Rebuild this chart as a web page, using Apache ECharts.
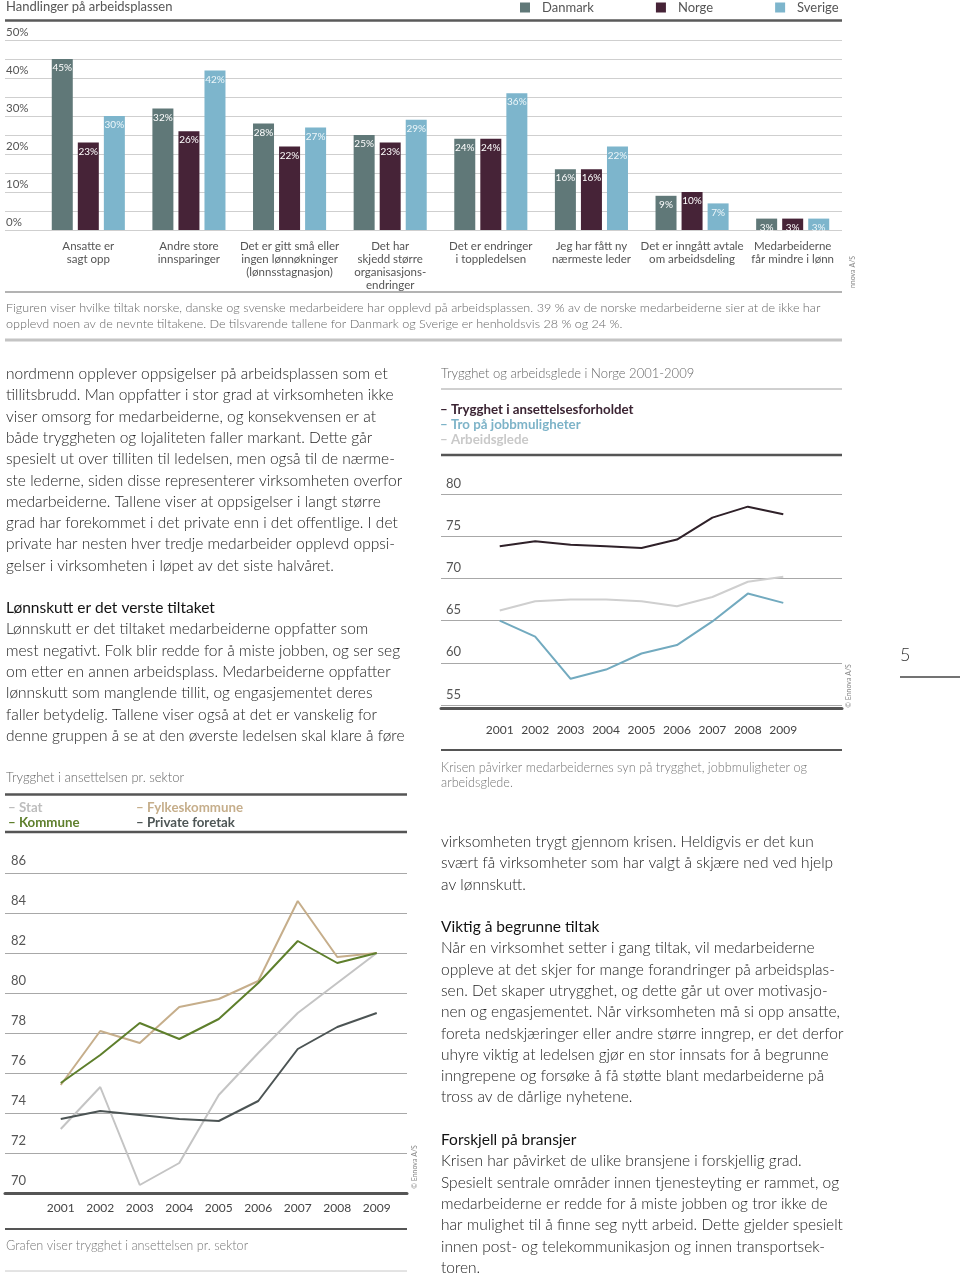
<!DOCTYPE html>
<html><head><meta charset="utf-8">
<script src="https://cdn.jsdelivr.net/npm/echarts@6/dist/echarts.min.js"></script>
<style>html,body{margin:0;padding:0;background:#fff}#c{width:960px;height:1276px}</style>
</head><body><div id="c"></div><script>
// ---- Data ----
const categories = ['Ansatte er\nsagt opp','Andre store\ninnsparinger','Det er gitt små eller\ningen lønnøkninger\n(lønnsstagnasjon)','Det har\nskjedd større\norganisasjons-\nendringer','Det er endringer\ni toppledelsen','Jeg har fått ny\nnærmeste leder','Det er inngått avtale\nom arbeidsdeling','Medarbeiderne\nfår mindre i lønn'];
const danmark = [45,32,28,25,24,16,9,3];
const norge   = [23,26,22,23,24,16,10,3];
const sverige = [30,42,27,29,36,22,7,3];

const years = ['2001','2002','2003','2004','2005','2006','2007','2008','2009'];
const trygghetNorge = [73.8,74.4,74.0,73.8,73.6,74.6,77.2,78.5,77.6];
const troJobb       = [65.0,63.1,58.1,59.2,61.1,62.1,64.9,68.2,67.1];
const arbeidsglede  = [66.2,67.3,67.5,67.5,67.3,66.7,67.8,69.6,70.2];

const stat           = [73.2,75.3,70.4,71.5,74.9,77.0,79.0,80.5,82.0];
const kommune        = [75.5,76.9,78.5,77.7,78.7,80.5,82.6,81.5,82.0];
const fylkeskommune  = [75.4,78.1,77.5,79.3,79.7,80.6,84.6,81.8,82.0];
const privateForetak = [73.7,74.1,73.9,73.7,73.6,74.6,77.2,78.3,79.0];

const barCaption = ['Figuren viser hvilke tiltak norske, danske og svenske medarbeidere har opplevd på arbeidsplassen. 39 % av de norske medarbeiderne sier at de ikke har','opplevd noen av de nevnte tiltakene. De tilsvarende tallene for Danmark og Sverige er henholdsvis 28 % og 24 %.'];
const line1Caption = ['Krisen påvirker medarbeidernes syn på trygghet, jobbmuligheter og','arbeidsglede.'];
const line2Caption = ['Grafen viser trygghet i ansettelsen pr. sektor'];

const leftText1 = ['nordmenn opplever oppsigelser på arbeidsplassen som et','tillitsbrudd. Man oppfatter i stor grad at virksomheten ikke','viser omsorg for medarbeiderne, og konsekvensen er at','både tryggheten og lojaliteten faller markant. Dette går','spesielt ut over tilliten til ledelsen, men også til de nærme-','ste lederne, siden disse representerer virksomheten overfor','medarbeiderne. Tallene viser at oppsigelser i langt større','grad har forekommet i det private enn i det offentlige. I det','private har nesten hver tredje medarbeider opplevd oppsi-','gelser i virksomheten i løpet av det siste halvåret.'];
const leftHead2 = 'Lønnskutt er det verste tiltaket';
const leftText2 = ['Lønnskutt er det tiltaket medarbeiderne oppfatter som','mest negativt. Folk blir redde for å miste jobben, og ser seg','om etter en annen arbeidsplass. Medarbeiderne oppfatter','lønnskutt som manglende tillit, og engasjementet deres','faller betydelig. Tallene viser også at det er vanskelig for','denne gruppen å se at den øverste ledelsen skal klare å føre'];
const rightText1 = ['virksomheten trygt gjennom krisen. Heldigvis er det kun','svært få virksomheter som har valgt å skjære ned ved hjelp','av lønnskutt.'];
const rightHead2 = 'Viktig å begrunne tiltak';
const rightText2 = ['Når en virksomhet setter i gang tiltak, vil medarbeiderne','oppleve at det skjer for mange forandringer på arbeidsplas-','sen. Det skaper utrygghet, og dette går ut over motivasjo-','nen og engasjementet. Når virksomheten må si opp ansatte,','foreta nedskjæringer eller andre større inngrep, er det derfor','uhyre viktig at ledelsen gjør en stor innsats for å begrunne','inngrepene og forsøke å få støtte blant medarbeiderne på','tross av de dårlige nyhetene.'];
const rightHead3 = 'Forskjell på bransjer';
const rightText3 = ['Krisen har påvirket de ulike bransjene i forskjellig grad.','Spesielt sentrale områder innen tjenesteyting er rammet, og','medarbeiderne er redde for å miste jobben og tror ikke de','har mulighet til å finne seg nytt arbeid. Dette gjelder spesielt','innen post- og telekommunikasjon og innen transportsek-','toren.'];

// ---- Style ----
const F = 'Lato';
const C_DK = '#607878', C_NO = '#462337', C_SE = '#7db5cc';
const LH = 21.3;
const BODY = 15.5;

function hline(x1, x2, y, w, color) {
  return {type:'line', silent:true, shape:{x1:x1, y1:y, x2:x2, y2:y}, style:{stroke:color, lineWidth:w}};
}
function block(x, yCenterFirst, lines, size, color, weight, lh) {
  lh = lh || LH;
  return {type:'text', silent:true, x:x, y:yCenterFirst - lh/2, style:{text:lines.join('\n'), fontSize:size, fontFamily:F, fontWeight:weight, fill:color, verticalAlign:'top', lineHeight:lh}};
}
function vtext(x, y, t) {
  return {type:'text', silent:true, x:x, y:y, rotation:Math.PI/2, style:{text:t, fontSize:7, fontFamily:F, fill:'#888', align:'center', verticalAlign:'middle'}};
}

const chart = echarts.init(document.getElementById('c'));

const hiddenY = (grid, min, max) => ({gridIndex:grid, min:min, max:max, show:false});
const gridY = (grid, min, max, interval, fmt, lineColor, lblSize, pad, margin) => ({
  gridIndex:grid, type:'value', min:min, max:max, interval:interval,
  axisLine:{show:false}, axisTick:{show:false},
  splitLine:{show:true, lineStyle:{color:lineColor, width:1.2}},
  axisLabel:{inside:true, margin:margin, verticalAlign:'bottom', padding:[0,0,pad,0], fontFamily:F, fontSize:lblSize, color:'#555', formatter:fmt}
});
const lineLegend = (left, top, data) => ({
  orient:'vertical', left:left, top:top, padding:0, itemWidth:0, itemHeight:14, itemGap:1, icon:'rect',
  itemStyle:{opacity:0}, lineStyle:{opacity:0}, formatter:'– {name}',
  textStyle:{fontFamily:F, fontSize:13.3, fontWeight:'bold'}, data:data
});

const option = {
  animation:false,
  backgroundColor:'#fff',
  title:[
    {text:'Handlinger på arbeidsplassen', left:6, top:0, padding:0, textStyle:{fontFamily:F, fontSize:13, fontWeight:'normal', color:'#555'}},
    {text:'Trygghet og arbeidsglede i Norge 2001-2009', left:441, top:367, padding:0, textStyle:{fontFamily:F, fontSize:13, fontWeight:300, color:'#666'}},
    {text:'Trygghet i ansettelsen pr. sektor', left:6, top:771, padding:0, textStyle:{fontFamily:F, fontSize:13, fontWeight:300, color:'#666'}}
  ],
  legend:[
    {data:['Danmark','Norge','Sverige'], left:520, top:1, padding:0, itemWidth:10, itemHeight:10, itemGap:62, icon:'rect',
     textStyle:{fontFamily:F, fontSize:13, color:'#555', padding:[0,0,0,7]}},
    lineLegend(435, 403, [{name:'Trygghet i ansettelsesforholdet', textStyle:{color:'#3b2433'}},
                          {name:'Tro på jobbmuligheter', textStyle:{color:'#7db3c8'}},
                          {name:'Arbeidsglede', textStyle:{color:'#c9c9c9'}}]),
    lineLegend(3, 801, [{name:'Stat', textStyle:{color:'#bdbdbd'}}, {name:'Kommune', textStyle:{color:'#5e7f2c'}}]),
    lineLegend(131, 801, [{name:'Fylkeskommune', textStyle:{color:'#c6ae8b'}}, {name:'Private foretak', textStyle:{color:'#4e5656'}}])
  ],
  grid:[
    {left:5, right:118, top:40, height:190},
    {left:38, right:117, top:40, height:190},
    {left:441, right:118, top:494, height:211},
    {left:482, right:159, top:494, height:211},
    {left:5, right:553, top:873, height:320},
    {left:41, right:563.5, top:873, height:320}
  ],
  xAxis:[
    {gridIndex:0, type:'value', show:false},
    {gridIndex:1, type:'category', data:categories, axisLine:{show:false}, axisTick:{show:false},
     axisLabel:{interval:0, margin:10, fontFamily:F, fontSize:11.5, lineHeight:13, color:'#555'}},
    {gridIndex:2, type:'value', min:0, max:1, offset:3, axisLine:{show:true, onZero:false, lineStyle:{color:'#555', width:3}},
     axisTick:{show:false}, axisLabel:{show:false}, splitLine:{show:false}},
    {gridIndex:3, type:'category', data:years, axisLine:{show:false}, axisTick:{show:false},
     axisLabel:{interval:0, margin:19, fontFamily:F, fontSize:12, color:'#444'}},
    {gridIndex:4, type:'value', min:0, max:1, offset:0, axisLine:{show:true, onZero:false, lineStyle:{color:'#555', width:3}},
     axisTick:{show:false}, axisLabel:{show:false}, splitLine:{show:false}},
    {gridIndex:5, type:'category', data:years, axisLine:{show:false}, axisTick:{show:false},
     axisLabel:{interval:0, margin:9, fontFamily:F, fontSize:12, color:'#444'}}
  ],
  yAxis:[
    gridY(0, 0, 50, 5, v => (v % 10 === 0 ? v + '%' : ''), '#cfcfcf', 11.5, 2, 1),
    hiddenY(1, 0, 50),
    gridY(2, 55, 80, 5, v => String(v), '#a8a8a8', 13, 4, 5),
    hiddenY(3, 55, 80),
    gridY(4, 70, 86, 2, v => String(v), '#a8a8a8', 13, 6, 6),
    hiddenY(5, 70, 86)
  ],
  series:[
    {name:'Danmark', type:'bar', xAxisIndex:1, yAxisIndex:1, data:danmark, barWidth:21, barGap:'24%', itemStyle:{color:C_DK},
     label:{show:true, position:'insideTop', distance:4, formatter:'{c}%', color:'#fff', fontFamily:F, fontSize:10}},
    {name:'Norge', type:'bar', xAxisIndex:1, yAxisIndex:1, data:norge, barWidth:21, barGap:'24%', itemStyle:{color:C_NO},
     label:{show:true, position:'insideTop', distance:4, formatter:'{c}%', color:'#fff', fontFamily:F, fontSize:10}},
    {name:'Sverige', type:'bar', xAxisIndex:1, yAxisIndex:1, data:sverige, barWidth:21, barGap:'24%', itemStyle:{color:C_SE},
     label:{show:true, position:'insideTop', distance:4, formatter:'{c}%', color:'#eef7fa', fontFamily:F, fontSize:10}},

    {name:'Arbeidsglede', type:'line', xAxisIndex:3, yAxisIndex:3, data:arbeidsglede, symbol:'none', lineStyle:{color:'#cfcfcf', width:2}, itemStyle:{color:'#cfcfcf'}},
    {name:'Tro på jobbmuligheter', type:'line', xAxisIndex:3, yAxisIndex:3, data:troJobb, symbol:'none', lineStyle:{color:'#72aabf', width:2}, itemStyle:{color:'#72aabf'}},
    {name:'Trygghet i ansettelsesforholdet', type:'line', xAxisIndex:3, yAxisIndex:3, data:trygghetNorge, symbol:'none', lineStyle:{color:'#2f2129', width:2}, itemStyle:{color:'#2f2129'}},

    {name:'Stat', type:'line', xAxisIndex:5, yAxisIndex:5, data:stat, symbol:'none', lineStyle:{color:'#c4c4c4', width:2}, itemStyle:{color:'#c4c4c4'}},
    {name:'Private foretak', type:'line', xAxisIndex:5, yAxisIndex:5, data:privateForetak, symbol:'none', lineStyle:{color:'#4c5454', width:2}, itemStyle:{color:'#4c5454'}},
    {name:'Fylkeskommune', type:'line', xAxisIndex:5, yAxisIndex:5, data:fylkeskommune, symbol:'none', lineStyle:{color:'#c6ae8b', width:2}, itemStyle:{color:'#c6ae8b'}},
    {name:'Kommune', type:'line', xAxisIndex:5, yAxisIndex:5, data:kommune, symbol:'none', lineStyle:{color:'#5e7f2c', width:2}, itemStyle:{color:'#5e7f2c'}}
  ],
  graphic:[
    // bar chart frame
    hline(5, 842, 20.5, 2.5, '#5a5a5a'),
    hline(5, 842, 292, 1.5, '#9a9a9a'),
    block(6, 308, barCaption, 12.6, '#666', 300, 15.5),
    hline(5, 842, 340, 3, '#c4c4c4'),
    vtext(853, 272, 'nnova A/S'),
    // line chart 1 frame
    hline(441, 842, 389, 1, '#a0a0a0'),
    hline(441, 842, 455, 2.5, '#555'),
    hline(441, 842, 750, 2, '#555'),
    block(441, 768, line1Caption, 12.7, '#777', 300, 15),
    vtext(849, 686, '© Ennova A/S'),
    // line chart 2 frame
    hline(5, 407, 794.5, 2.5, '#555'),
    hline(5, 407, 832, 2.5, '#555'),
    hline(5, 407, 1229, 2, '#555'),
    block(6, 1246, line2Caption, 12.7, '#777', 300, 15),
    hline(5, 407, 1271, 1, '#c8c8c8'),
    vtext(415, 1167, '© Ennova A/S'),
    // page number
    {type:'text', silent:true, x:900, y:655, style:{text:'5', fontSize:18, fontFamily:F, fontWeight:300, fill:'#333', verticalAlign:'middle'}},
    hline(900, 960, 677, 1.5, '#444'),
    // body text
    block(6, 374, leftText1, BODY, '#222', 300),
    block(6, 608, [leftHead2], BODY, '#111', 'normal'),
    block(6, 629.3, leftText2, BODY, '#222', 300),
    block(441, 842, rightText1, BODY, '#222', 300),
    block(441, 927, [rightHead2], BODY, '#111', 'normal'),
    block(441, 948.3, rightText2, BODY, '#222', 300),
    block(441, 1140, [rightHead3], BODY, '#111', 'normal'),
    block(441, 1161.3, rightText3, BODY, '#222', 300)
  ]
};
chart.setOption(option);
</script></body></html>
